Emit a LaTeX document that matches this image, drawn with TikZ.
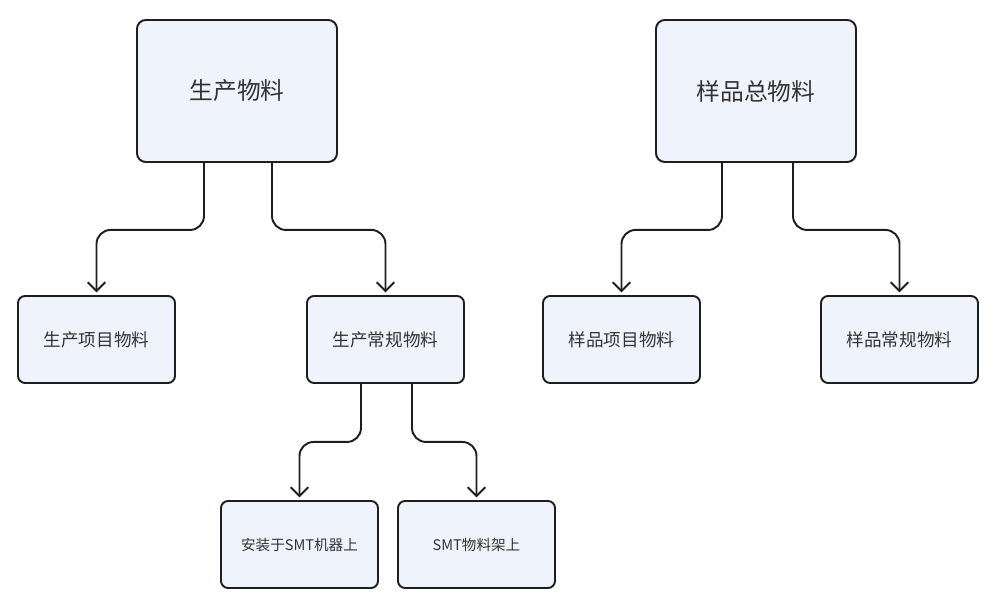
\documentclass[tikz,border=0pt]{standalone}
\usepackage{fontspec}
\setmainfont{Noto Sans CJK SC}
\usepackage{tikz}
\usetikzlibrary{arrows.meta, positioning, calc}
\definecolor{boxfill}{RGB}{239, 243, 251}
\definecolor{boxline}{RGB}{30, 30, 30}
\definecolor{textcolor}{RGB}{51, 51, 51}

\begin{document}
\begin{tikzpicture}[
    bigbox/.style={draw=boxline, fill=boxfill, line width=1.1pt, rounded corners=5pt,
        minimum width=4cm, minimum height=2.84cm, font=\fontsize{13.5}{16}\selectfont, text=textcolor},
    midbox/.style={draw=boxline, fill=boxfill, line width=1.1pt, rounded corners=4pt,
        minimum width=3.14cm, minimum height=1.74cm, font=\fontsize{10}{12}\selectfont, text=textcolor},
    smallbox/.style={midbox, font=\fontsize{8.3}{10}\selectfont},
    conn/.style={draw=boxline, line width=1.1pt, rounded corners=8pt, -{Straight Barb[length=5pt, width=10pt]}, shorten >=1.5pt}
]
\useasboundingbox (0,0) rectangle (20,-12.22);

% top level
\node[bigbox] (prod) at (4.74,-1.82) {生产物料};
\node[bigbox] (sample) at (15.12,-1.82) {样品总物料};

% second level
\node[midbox] (prodproj) at (1.93,-6.79) {生产项目物料};
\node[midbox] (prodreg) at (7.71,-6.79) {生产常规物料};
\node[midbox] (sampproj) at (12.43,-6.79) {样品项目物料};
\node[midbox] (sampreg) at (17.99,-6.79) {样品常规物料};

% third level
\node[smallbox] (onsmt) at (5.99,-10.89) {安装于SMT机器上};
\node[smallbox] (smtrack) at (9.53,-10.89) {SMT物料架上};

% connectors
\draw[conn] ([xshift=-0.66cm]prod.south) -- ++(0,-1.34) -| (prodproj.north);
\draw[conn] ([xshift=0.70cm]prod.south) -- ++(0,-1.34) -| (prodreg.north);
\draw[conn] ([xshift=-0.68cm]sample.south) -- ++(0,-1.34) -| (sampproj.north);
\draw[conn] ([xshift=0.74cm]sample.south) -- ++(0,-1.34) -| (sampreg.north);
\draw[conn] ([xshift=-0.49cm]prodreg.south) -- ++(0,-1.16) -| (onsmt.north);
\draw[conn] ([xshift=0.53cm]prodreg.south) -- ++(0,-1.16) -| (smtrack.north);
\end{tikzpicture}
\end{document}
